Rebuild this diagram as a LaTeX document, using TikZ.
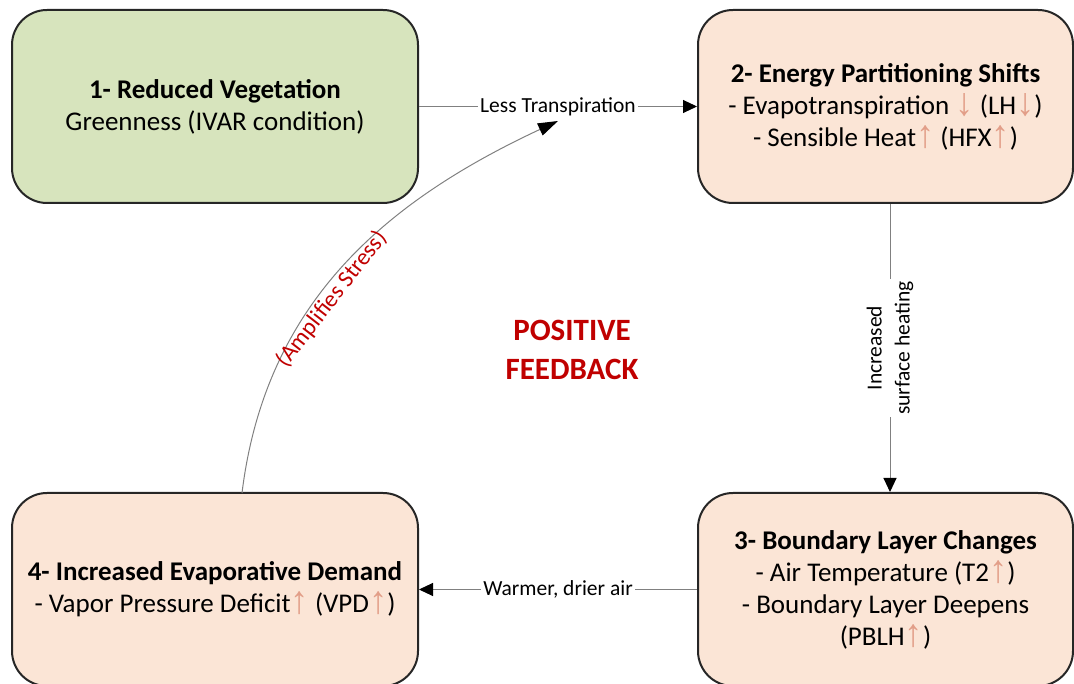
\documentclass[tikz,border=0pt]{standalone}
\usepackage{fontspec}
\usepackage{graphicx}
\setmainfont{Carlito}
\newfontfamily\arrowfont{Liberation Sans}
\usetikzlibrary{arrows.meta}
\definecolor{greenfill}{RGB}{215,228,189}
\definecolor{peachfill}{RGB}{251,229,214}
\definecolor{boxline}{RGB}{38,38,38}
\definecolor{linkgray}{RGB}{128,128,128}
\definecolor{darkred}{RGB}{192,0,0}
\definecolor{arrowc}{RGB}{226,158,136}
\newcommand{\incr}{{\color{arrowc}\arrowfont\raisebox{-1pt}{\scalebox{1.35}[1.45]{↑}}}}
\newcommand{\decr}{{\color{arrowc}\arrowfont\raisebox{-1pt}{\scalebox{1.35}[1.45]{↓}}}}
\tikzset{
  box/.style={draw=boxline,line width=2pt,rounded corners=35pt,align=center,
    minimum height=193pt,font=\fontsize{27}{32}\selectfont},
  link/.style={draw=linkgray,line width=1pt,-{Triangle[length=14pt,width=13pt,color=black]}},
  lbl/.style={fill=white,inner sep=2pt,font=\fontsize{21.5}{28}\selectfont}
}

\begin{document}
\begin{tikzpicture}[x=1pt,y=1pt]
      \clip (0,0) rectangle (1074,683);
      \node[box,fill=greenfill,minimum width=406pt] (veg) at (215,576.5)
        {\textbf{1- Reduced Vegetation}\\Greenness (IVAR condition)};
      \node[box,fill=peachfill,minimum width=375pt] (energy) at (885.5,576.5)
        {\textbf{2- Energy Partitioning Shifts}\\- Evapotranspiration \decr{} (LH\decr)\\- Sensible Heat\incr{} (HFX\incr)};
      \node[box,fill=peachfill,minimum width=375pt] (layer) at (885.5,93.5)
        {\textbf{3- Boundary Layer Changes}\\- Air Temperature (T2\incr)\\- Boundary Layer Deepens\\(PBLH\incr)};
      \node[box,fill=peachfill,minimum width=406pt] (demand) at (215,93.5)
        {\textbf{4- Increased Evaporative Demand}\\- Vapor Pressure Deficit\incr{} (VPD\incr)};
      \node[text=darkred,align=center,font=\bfseries\fontsize{31}{39}\selectfont] (loop) at (572,333)
        {POSITIVE\\FEEDBACK};
      \coordinate (stressfrom) at (242,190);
      \coordinate (stressto) at (558,562);

\draw[link] (veg.east) -- node[lbl] {Less Transpiration} (energy.west);
\draw[link] (energy.south -| 890,0) -- node[lbl,rotate=90,align=center] {Increased\\surface heating} (layer.north -| 890,0);
\draw[link] (layer.west) -- node[lbl] {Warmer, drier air} (demand.east);
\draw[draw=linkgray,line width=1pt,-{Triangle[length=20pt,width=13pt,color=black]}]
  (stressfrom) to[out=83,in=205]
  node[pos=0.43,sloped,below,inner sep=1pt,text=darkred,font=\fontsize{23.5}{28}\selectfont] {(Amplifies Stress)} (stressto);
    \end{tikzpicture}
\end{document}
